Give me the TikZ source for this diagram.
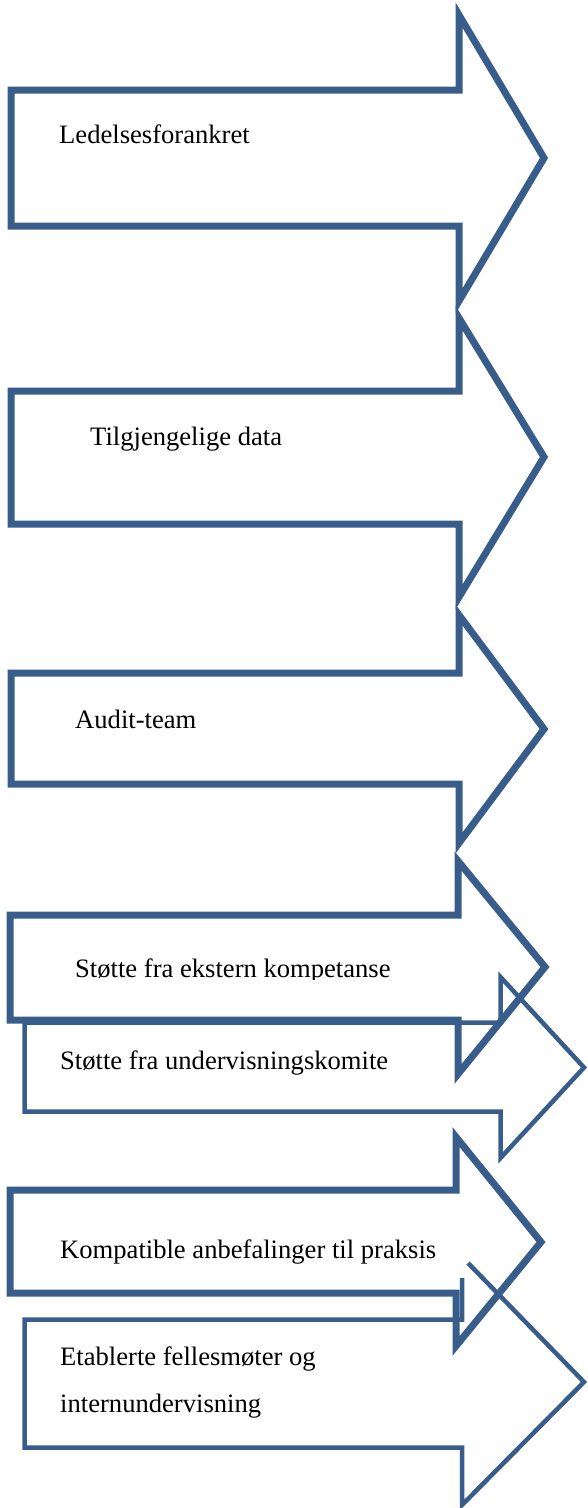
\documentclass[tikz,border=0pt]{standalone}
\usepackage{fontspec}
\setmainfont{Liberation Serif}
\definecolor{arrowblue}{HTML}{385D8A}
\begin{document}
\begin{tikzpicture}[x=1pt,y=-1pt,
  thickarrow/.style={draw=arrowblue,line width=7pt,line join=miter},
  thinarrow/.style={draw=arrowblue,line width=4.5pt,line join=miter},
  label/.style={anchor=base west,inner sep=0pt,font=\fontsize{26.6}{47}\selectfont}]
\useasboundingbox (0,0) rectangle (587,1508);

% block arrow 1
\draw[thickarrow] (11,90) -- (459,90) -- (459,15) -- (544,158) -- (459,301)
  -- (459,226) -- (11,226) -- cycle;
\node[label] (t1) at (59,143) {Ledelsesforankret};

% block arrow 2
\draw[thickarrow] (11,391) -- (459,391) -- (459,318) -- (544,457) -- (459,597)
  -- (459,524) -- (11,524) -- cycle;
\node[label] (t2) at (90,445) {Tilgjengelige data};

% block arrow 3
\draw[thickarrow] (11,673) -- (459,673) -- (459,615) -- (544,729) -- (459,843)
  -- (459,784) -- (11,784) -- cycle;
\node[label] (t3) at (75,728) {Audit-team};

% block arrow 4
\draw[thickarrow] (10,915) -- (458,915) -- (458,861) -- (545,967) -- (458,1074)
  -- (458,1020) -- (10,1020) -- cycle;
\begin{scope}
  \clip (0,900) rectangle (587,979);
  \node[label] (t4) at (75,977) {Støtte fra ekstern kompetanse};
\end{scope}

% block arrow 5 (thin outline)
\draw[thinarrow] (24.5,1022.5) -- (500.5,1022.5) -- (500.5,977) -- (584,1067.5)
  -- (500.5,1158) -- (500.5,1111.5) -- (24.5,1111.5) -- cycle;
\node[label] (t5) at (60,1069) {Støtte fra undervisningskomite};

% block arrow 6
\draw[thickarrow] (10,1190) -- (456,1190) -- (456,1137) -- (541,1242) -- (456,1346)
  -- (456,1293) -- (10,1293) -- cycle;
\node[label] (t6) at (60,1258) {Kompatible anbefalinger til praksis};

% block arrow 7 (thin outline, upper corner of the head left open)
\draw[thinarrow] (468,1263) -- (584,1382) -- (462,1505) -- (462,1447.5)
  -- (24.5,1447.5) -- (24.5,1319.5) -- (462,1319.5) -- (462,1278);
\node[label] (t7a) at (60,1365) {Etablerte fellesmøter og};
\node[label] (t7b) at (60,1412) {internundervisning};
\end{tikzpicture}
\end{document}
